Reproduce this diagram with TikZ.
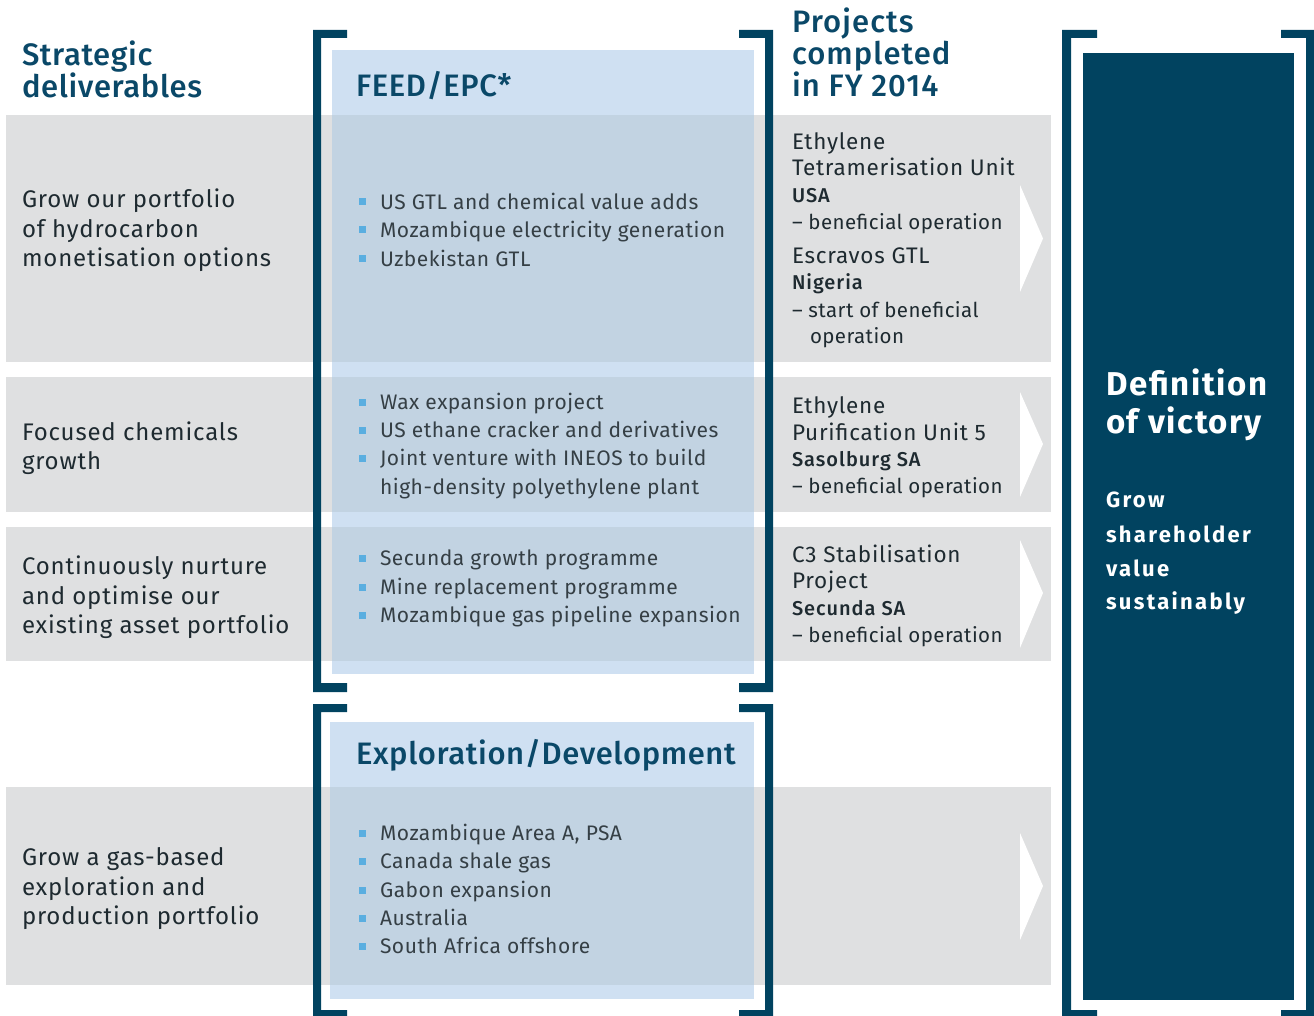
\documentclass[tikz,border=0pt]{standalone}
\usepackage{fontspec}
\setmainfont{Fira Sans}
\newfontfamily\medfont{Fira Sans Medium}
\definecolor{navy}{RGB}{1,67,96}
\definecolor{headblue}{RGB}{10,72,104}
\definecolor{bandgrey}{RGB}{223,224,225}
\definecolor{panelblue}{RGB}{207,224,242}
\definecolor{panelover}{RGB}{194,211,226}
\definecolor{bulletblue}{RGB}{90,174,224}
\definecolor{txt}{RGB}{30,42,48}
\newcommand{\bulletitem}[3]{%
  \node[bsq] (#1b) at (362.5,#2-7.5) {};
  \node[btxt] (#1) at (380,#2) {#3};
}
\begin{document}
\begin{tikzpicture}[x=1pt,y=-1pt,
  every node/.style={inner sep=0pt, outer sep=0pt},
  band/.style={fill=bandgrey, draw=none},
  panel/.style={fill=panelblue, draw=none},
  over/.style={fill=panelover, draw=none},
  brk/.style={fill=navy, draw=none},
  chev/.style={fill=white, draw=none},
  head/.style={anchor=base west, text=headblue, font=\medfont\fontsize{31}{33}\selectfont\addfontfeatures{LetterSpace=2}},
  headr/.style={anchor=base west, text=headblue, font=\medfont\fontsize{31}{33}\selectfont\addfontfeatures{LetterSpace=3.5}},
  ltxt/.style={anchor=base west, text=txt, font=\fontsize{24}{28}\selectfont\addfontfeatures{LetterSpace=3.5}},
  btxt/.style={anchor=base west, text=txt!90, font=\fontsize{21}{25}\selectfont\addfontfeatures{LetterSpace=2.5}},
  bsq/.style={fill=bulletblue, minimum size=7pt, inner sep=0pt},
  ptxt/.style={anchor=base west, text=txt, font=\fontsize{22.5}{26}\selectfont\addfontfeatures{LetterSpace=3.3}},
  pbold/.style={anchor=base west, text=txt, font=\medfont\fontsize{20}{22}\selectfont\addfontfeatures{LetterSpace=5}},
  psub/.style={anchor=base west, text=txt, font=\fontsize{20.5}{24}\selectfont\addfontfeatures{LetterSpace=2}},
  dhead/.style={anchor=base west, text=white, font=\bfseries\fontsize{33}{35}\selectfont\addfontfeatures{LetterSpace=5}},
  dsub/.style={anchor=base west, text=white, font=\bfseries\fontsize{22}{24}\selectfont\addfontfeatures{LetterSpace=10.5}}
]
\useasboundingbox (0,0) rectangle (1314,1016);
\fill[white] (0,0) rectangle (1314,1016);

% grey bands
\fill[band] (6,115) rectangle (1051,362);
\fill[band] (6,377) rectangle (1051,512);
\fill[band] (6,527) rectangle (1051,661);
\fill[band] (6,787) rectangle (1051,985);

% panels
\fill[panel] (332,50) rectangle (754,674);
\fill[over] (332,115) rectangle (754,362);
\fill[over] (332,377) rectangle (754,512);
\fill[over] (332,527) rectangle (754,661);
\fill[panel] (330,722) rectangle (754,999);
\fill[over] (330,787) rectangle (754,985);

% chevrons
\fill[chev] (1020,185) -- (1043,238.5) -- (1020,292) -- cycle;
\fill[chev] (1020,392) -- (1043,444) -- (1020,497) -- cycle;
\fill[chev] (1020,540) -- (1043,593) -- (1020,648) -- cycle;
\fill[chev] (1020,833) -- (1043,886) -- (1020,940) -- cycle;

% brackets FEED/EPC
\fill[brk] (313,30) -- (347,30) -- (347,38) -- (321,38) -- (321,683) -- (347,683) -- (347,692) -- (313,692) -- cycle;
\fill[brk] (773,30) -- (739,30) -- (739,38) -- (765,38) -- (765,683) -- (739,683) -- (739,692) -- (773,692) -- cycle;
% brackets Exploration
\fill[brk] (313,704) -- (347,704) -- (347,712) -- (321,712) -- (321,1010) -- (347,1010) -- (347,1016) -- (313,1016) -- cycle;
\fill[brk] (773,704) -- (739,704) -- (739,712) -- (765,712) -- (765,1010) -- (739,1010) -- (739,1016) -- (773,1016) -- cycle;
% brackets Definition
\fill[brk] (1062,30) -- (1097,30) -- (1097,38) -- (1071,38) -- (1071,1010) -- (1097,1010) -- (1097,1016) -- (1062,1016) -- cycle;
\fill[brk] (1314,30) -- (1281,30) -- (1281,38) -- (1306,38) -- (1306,1010) -- (1281,1010) -- (1281,1016) -- (1314,1016) -- cycle;
% definition box
\fill[navy] (1083,53) rectangle (1294,1000);

% headings
\node[head] (h1a) at (22,66) {Strategic};
\node[head] (h1b) at (22,98) {deliverables};
\node[head] (h2) at (356,97) {FEED/EPC*};
\node[headr] (h3a) at (792,33) {Projects};
\node[headr] (h3b) at (792,65) {completed};
\node[headr] (h3c) at (792,97) {in FY 2014};
\node[head] (h4) at (356,764) {Exploration/Development};

% left texts
\node[ltxt] (l1a) at (22,208) {Grow our portfolio};
\node[ltxt] (l1b) at (22,238) {of hydrocarbon};
\node[ltxt] (l1c) at (22,267) {monetisation options};
\node[ltxt] (l2a) at (22,440) {Focused chemicals};
\node[ltxt] (l2b) at (22,469) {growth};
\node[ltxt] (l3a) at (22,574) {Continuously nurture};
\node[ltxt] (l3b) at (22,604) {and optimise our};
\node[ltxt] (l3c) at (22,633) {existing asset portfolio};
\node[ltxt] (l4a) at (22,865) {Grow a gas-based};
\node[ltxt] (l4b) at (22,895) {exploration and};
\node[ltxt] (l4c) at (22,924) {production portfolio};

% bullets
\bulletitem{f1}{209.5}{US GTL and chemical value adds}
\bulletitem{f2}{237.5}{Mozambique electricity generation}
\bulletitem{f3}{266.5}{Uzbekistan GTL}
\bulletitem{f4}{409.5}{Wax expansion project}
\bulletitem{f5}{437.5}{US ethane cracker and derivatives}
\bulletitem{f6}{465.5}{Joint venture with INEOS to build}
\node[btxt] (f6b) at (380,494.5) {high-density polyethylene plant};
\bulletitem{f7}{565.5}{Secunda growth programme}
\bulletitem{f8}{594.5}{Mine replacement programme}
\bulletitem{f9}{622.5}{Mozambique gas pipeline expansion}
\bulletitem{e1}{840.5}{Mozambique Area A, PSA}
\bulletitem{e2}{868.5}{Canada shale gas}
\bulletitem{e3}{897.5}{Gabon expansion}
\bulletitem{e4}{925.5}{Australia}
\bulletitem{e5}{953.5}{South Africa offshore}

% projects
\node[ptxt] (p1a) at (792,150) {Ethylene};
\node[ptxt] (p1b) at (792,176) {Tetramerisation Unit};
\node[pbold] (p1c) at (792,203) {USA};
\node[psub] (p1d) at (792,230) {– beneficial operation};
\node[ptxt] (p2a) at (792,264) {Escravos GTL};
\node[pbold] (p2b) at (792,290) {Nigeria};
\node[psub] (p2c) at (792,317) {– start of beneficial};
\node[psub] (p2d) at (810,343) {operation};
\node[ptxt] (p3a) at (792,413) {Ethylene};
\node[ptxt] (p3b) at (792,440) {Purification Unit 5};
\node[pbold] (p3c) at (792,466) {Sasolburg SA};
\node[psub] (p3d) at (792,493) {– beneficial operation};
\node[ptxt] (p4a) at (792,562) {C3 Stabilisation};
\node[ptxt] (p4b) at (792,588) {Project};
\node[pbold] (p4c) at (792,615) {Secunda SA};
\node[psub] (p4d) at (792,642) {– beneficial operation};

% definition of victory
\node[dhead] (d1) at (1106,395) {Definition};
\node[dhead] (d2) at (1106,433) {of victory};
\node[dsub] (d3) at (1106,507) {Grow};
\node[dsub] (d4) at (1106,542) {shareholder};
\node[dsub] (d5) at (1106,576) {value};
\node[dsub] (d6) at (1106,609) {sustainably};
\end{tikzpicture}
\end{document}
